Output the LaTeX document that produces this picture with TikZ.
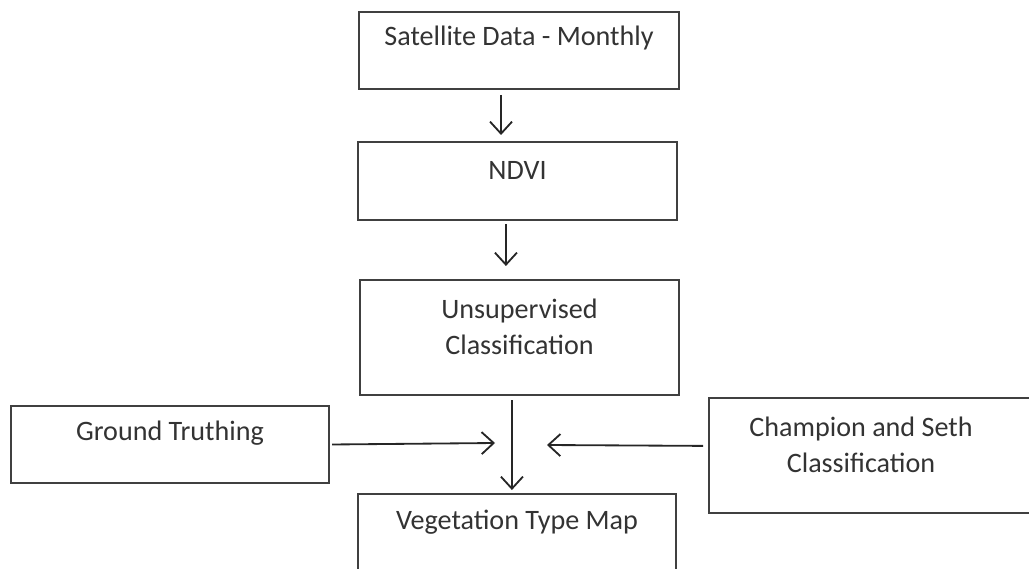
\documentclass[tikz,border=0pt]{standalone}
\usepackage{fontspec}
\setmainfont{Carlito}
\usepackage{tikz}
\usetikzlibrary{arrows.meta, positioning}

\tikzset{
  box/.style = {draw=black!75, line width=1.4pt, rectangle, inner sep=0pt, anchor=north west},
  txt/.style = {draw=none, text=black!80, align=center, inner sep=0pt, font=\fontsize{20}{25.6}\selectfont},
  arr/.style = {draw=black!85, line width=1.3pt, -{Straight Barb[length=0.3cm, width=0.55cm]}},
}

\begin{document}
\begin{tikzpicture}[x=0.025cm, y=-0.025cm]

\useasboundingbox (0,0) rectangle (1029,569);

\node [box, minimum width=8.000cm, minimum height=1.925cm] at (358, 11) (sat)   {};
\node [box, minimum width=7.975cm, minimum height=1.950cm] at (357,141) (ndvi)  {};
\node [box, minimum width=7.975cm, minimum height=2.875cm] at (359,279) (unsup) {};
\node [box, minimum width=7.950cm, minimum height=1.925cm] at ( 10,405) (gt)    {};
\node [box, minimum width=8.300cm, minimum height=2.875cm] at (708,397) (champ) {};
\node [box, minimum width=7.950cm, minimum height=2.200cm] at (357,493) (veg)   {};

\node [txt, yshift=-0.675cm               ] at (sat.north)   (satT)   {Satellite Data - Monthly};
\node [txt, yshift=-0.725cm               ] at (ndvi.north)  (ndviT)  {NDVI};
\node [txt, yshift=-1.200cm               ] at (unsup.north) (unsupT) {Unsupervised\\Classification};
\node [txt, yshift=-0.700cm               ] at (gt.north)    (gtT)    {Ground Truthing};
\node [txt, xshift=-0.350cm, yshift=-1.200cm] at (champ.north) (champT) {Champion and Seth\\Classification};
\node [txt, yshift=-0.725cm               ] at (veg.north)   (vegT)   {Vegetation Type Map};

\coordinate (gtend)    at (495,443);
\coordinate (champend) at (547,445);

\path [arr] ([xshift=-0.450cm, yshift=-0.125cm] sat.south)   -- ([xshift=-0.450cm, yshift=0.150cm] sat.south |- ndvi.north);
\path [arr] ([xshift=-0.290cm, yshift=-0.075cm] ndvi.south)  -- ([xshift=-0.290cm, yshift=0.325cm] ndvi.south |- unsup.north);
\path [arr] ([xshift=-0.190cm, yshift=-0.100cm] unsup.south) -- ([xshift=-0.190cm, yshift=0.075cm] unsup.south |- veg.north);
\path [arr] ([xshift=0.050cm] gt.east) -- (gtend);
\path [arr] ([xshift=-0.125cm, yshift=0.240cm] champ.west) -- (champend);

\end{tikzpicture}
\end{document}
